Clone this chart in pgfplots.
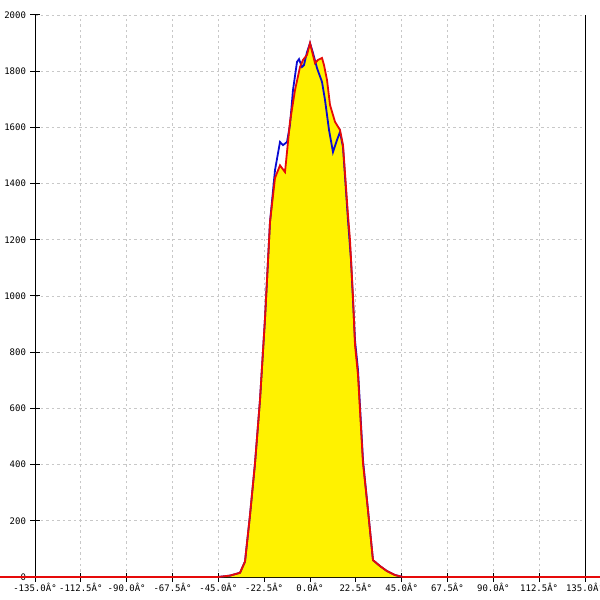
\documentclass[border=0pt]{standalone}
\usepackage{pgfplots}
\pgfplotsset{compat=1.18}
\usepackage{fontspec}
\setmainfont{DejaVu Sans Mono}
\definecolor{cred}{RGB}{230,10,10}
\definecolor{cblue}{RGB}{10,10,210}
\definecolor{cgrid}{RGB}{200,200,200}
\pgfplotstableread{
x y
-152.2 0
-45.16 0
-39.27 5
-34.36 15
-31.91 55
-29.46 220
-27.00 405
-24.55 630
-22.09 920
-19.64 1263
-17.18 1420
-14.73 1465
-12.27 1441
-9.82 1620
-7.36 1733
-4.91 1815
-3.44 1840
-1.47 1858
0 1900
2.45 1829
3.93 1840
5.89 1847
6.87 1822
8.35 1769
9.82 1680
12.27 1620
14.73 1591
16.20 1537
18.65 1288
19.64 1199
21.11 996
22.09 826
23.56 719
26.02 405
28.47 238
30.93 60
34.36 39
37.80 21
41.73 7
45.66 0
142.4 0
}\redtab
\pgfplotstableread{
x y
-152.2 0
-45.16 0
-39.27 5
-34.36 15
-31.91 55
-29.46 220
-27.00 405
-24.55 630
-22.09 920
-19.64 1263
-17.18 1448
-14.73 1548
-13.25 1537
-11.29 1548
-9.82 1609
-8.35 1733
-6.38 1833
-5.40 1843
-3.93 1815
-2.95 1822
-1.47 1868
0 1900
1.47 1865
3.44 1811
5.89 1762
7.36 1698
9.33 1591
11.29 1512
13.25 1555
14.73 1584
16.20 1530
18.65 1270
20.13 1128
22.09 843
23.56 737
26.02 416
28.47 238
30.93 60
34.36 39
37.80 21
41.73 7
45.66 0
142.4 0
}\bluetab
\begin{document}
\begin{tikzpicture}
\begin{axis}[
  name=ax,
  scale only axis,
  width=550pt, height=562pt,
  xmin=-135, xmax=135, ymin=0, ymax=2000,
  clip=false,
  axis x line=bottom, axis y line=box,
  ytick pos=left,
  axis line style={black, line width=1pt},
  x axis line style={-}, y axis line style={-},
  tick align=center,
  major tick length=9pt,
  tick style={black, line width=1pt},
  xtick={-135,-112.5,-90,-67.5,-45,-22.5,0,22.5,45,67.5,90,112.5,135},
  xticklabels={-135.0Â°,-112.5Â°,-90.0Â°,-67.5Â°,-45.0Â°,-22.5Â°,0.0Â°,22.5Â°,45.0Â°,67.5Â°,90.0Â°,112.5Â°,135.0Â°},
  ytick={0,200,400,600,800,1000,1200,1400,1600,1800,2000},
  yticklabels={0,200,400,600,800,1000,1200,1400,1600,1800,2000},
  ticklabel style={font=\fontsize{9}{10}\selectfont, text=black},
  xticklabel style={yshift=2pt},
  yticklabel style={xshift=-1pt},
  grid=major,
  major grid style={cgrid, line width=0.8pt, dash pattern=on 2.5pt off 3pt},
]
\addplot[fill=yellow, draw=none] table[x=x,y=y] {\redtab} \closedcycle;
\addplot[cblue, line width=1.8pt] table[x=x,y=y] {\bluetab};
\addplot[cred, line width=1.8pt] table[x=x,y=y] {\redtab};
\end{axis}
\pgfresetboundingbox
\path[use as bounding box] ([xshift=-35pt,yshift=-23pt]ax.south west) rectangle ([xshift=15pt,yshift=15pt]ax.north east);
\end{tikzpicture}
\end{document}
